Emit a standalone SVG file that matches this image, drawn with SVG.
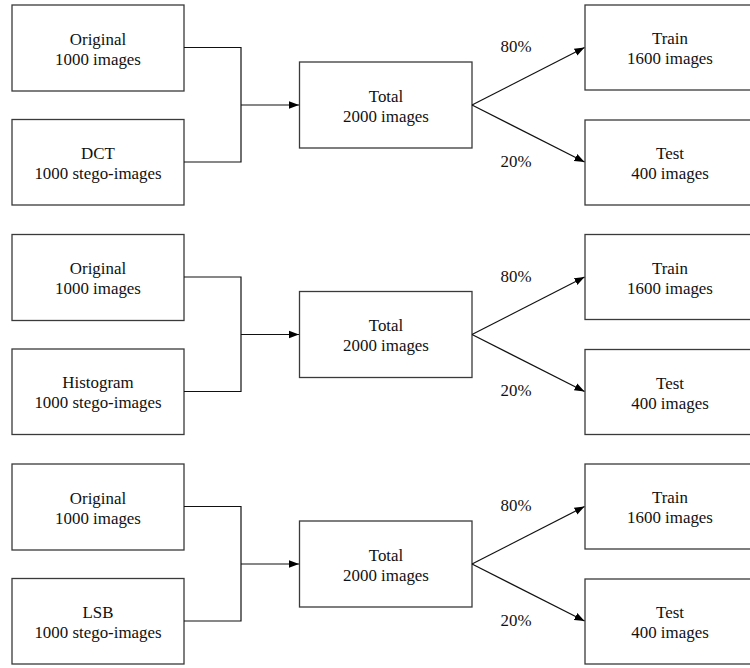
<svg xmlns="http://www.w3.org/2000/svg" width="750" height="668" viewBox="0 0 750 668">
<style>
.box{fill:#fff;stroke:#3a3a3a;stroke-width:1.3}
.ln{fill:none;stroke:#111;stroke-width:1.2}
.t{font-family:'Liberation Serif','Times New Roman','DejaVu Serif',serif;font-size:16.9px;fill:#111;text-anchor:middle}
</style>
<defs>
<marker id="ah" viewBox="0 0 10 10" refX="10" refY="5" markerWidth="10" markerHeight="10" markerUnits="userSpaceOnUse" orient="auto">
<path d="M0,1.2 L10,5 L0,8.8 Z" fill="#000"/>
</marker>
</defs>
<rect width="750" height="668" fill="#fff"/>

<g id="row1">
<g id="orig1"><rect class="box" x="12" y="5" width="172" height="86"/><text class="t" x="98" y="44.5">Original</text><text class="t" x="98" y="64.5">1000 images</text></g>
<g id="dct"><rect class="box" x="12" y="119.5" width="172" height="85.5"/><text class="t" x="98" y="158.5">DCT</text><text class="t" x="98" y="178.5">1000 stego-images</text></g>
<g id="total1"><rect class="box" x="299.5" y="62" width="172.5" height="86"/><text class="t" x="386" y="101.5">Total</text><text class="t" x="386" y="121.5">2000 images</text></g>
<g id="train1"><rect class="box" x="585" y="5" width="172" height="85"/><text class="t" x="670" y="44">Train</text><text class="t" x="670" y="64">1600 images</text></g>
<g id="test1"><rect class="box" x="585" y="120" width="172" height="85"/><text class="t" x="670" y="159">Test</text><text class="t" x="670" y="179">400 images</text></g>
<g id="conn1">
<polyline class="ln" points="184,47.5 241,47.5 241,162 184,162"/>
<line class="ln" x1="241" y1="105" x2="299" y2="105" marker-end="url(#ah)"/>
<line class="ln" x1="472" y1="105" x2="584.5" y2="47.5" marker-end="url(#ah)"/>
<line class="ln" x1="472" y1="105" x2="584.5" y2="162" marker-end="url(#ah)"/>
<text class="t" x="516" y="52">80%</text>
<text class="t" x="516" y="166.5">20%</text>
</g>
</g>

<g id="row2" transform="translate(0,229.5)">
<g id="orig2"><rect class="box" x="12" y="5" width="172" height="86"/><text class="t" x="98" y="44.5">Original</text><text class="t" x="98" y="64.5">1000 images</text></g>
<g id="hist"><rect class="box" x="12" y="119.5" width="172" height="85.5"/><text class="t" x="98" y="158.5">Histogram</text><text class="t" x="98" y="178.5">1000 stego-images</text></g>
<g id="total2"><rect class="box" x="299.5" y="62" width="172.5" height="86"/><text class="t" x="386" y="101.5">Total</text><text class="t" x="386" y="121.5">2000 images</text></g>
<g id="train2"><rect class="box" x="585" y="5" width="172" height="85"/><text class="t" x="670" y="44">Train</text><text class="t" x="670" y="64">1600 images</text></g>
<g id="test2"><rect class="box" x="585" y="120" width="172" height="85"/><text class="t" x="670" y="159">Test</text><text class="t" x="670" y="179">400 images</text></g>
<g id="conn2">
<polyline class="ln" points="184,47.5 241,47.5 241,162 184,162"/>
<line class="ln" x1="241" y1="105" x2="299" y2="105" marker-end="url(#ah)"/>
<line class="ln" x1="472" y1="105" x2="584.5" y2="47.5" marker-end="url(#ah)"/>
<line class="ln" x1="472" y1="105" x2="584.5" y2="162" marker-end="url(#ah)"/>
<text class="t" x="516" y="52">80%</text>
<text class="t" x="516" y="166.5">20%</text>
</g>
</g>

<g id="row3" transform="translate(0,459)">
<g id="orig3"><rect class="box" x="12" y="5" width="172" height="86"/><text class="t" x="98" y="44.5">Original</text><text class="t" x="98" y="64.5">1000 images</text></g>
<g id="lsb"><rect class="box" x="12" y="119.5" width="172" height="85.5"/><text class="t" x="98" y="158.5">LSB</text><text class="t" x="98" y="178.5">1000 stego-images</text></g>
<g id="total3"><rect class="box" x="299.5" y="62" width="172.5" height="86"/><text class="t" x="386" y="101.5">Total</text><text class="t" x="386" y="121.5">2000 images</text></g>
<g id="train3"><rect class="box" x="585" y="5" width="172" height="85"/><text class="t" x="670" y="44">Train</text><text class="t" x="670" y="64">1600 images</text></g>
<g id="test3"><rect class="box" x="585" y="120" width="172" height="85"/><text class="t" x="670" y="159">Test</text><text class="t" x="670" y="179">400 images</text></g>
<g id="conn3">
<polyline class="ln" points="184,47.5 241,47.5 241,162 184,162"/>
<line class="ln" x1="241" y1="105" x2="299" y2="105" marker-end="url(#ah)"/>
<line class="ln" x1="472" y1="105" x2="584.5" y2="47.5" marker-end="url(#ah)"/>
<line class="ln" x1="472" y1="105" x2="584.5" y2="162" marker-end="url(#ah)"/>
<text class="t" x="516" y="52">80%</text>
<text class="t" x="516" y="166.5">20%</text>
</g>
</g>
</svg>
